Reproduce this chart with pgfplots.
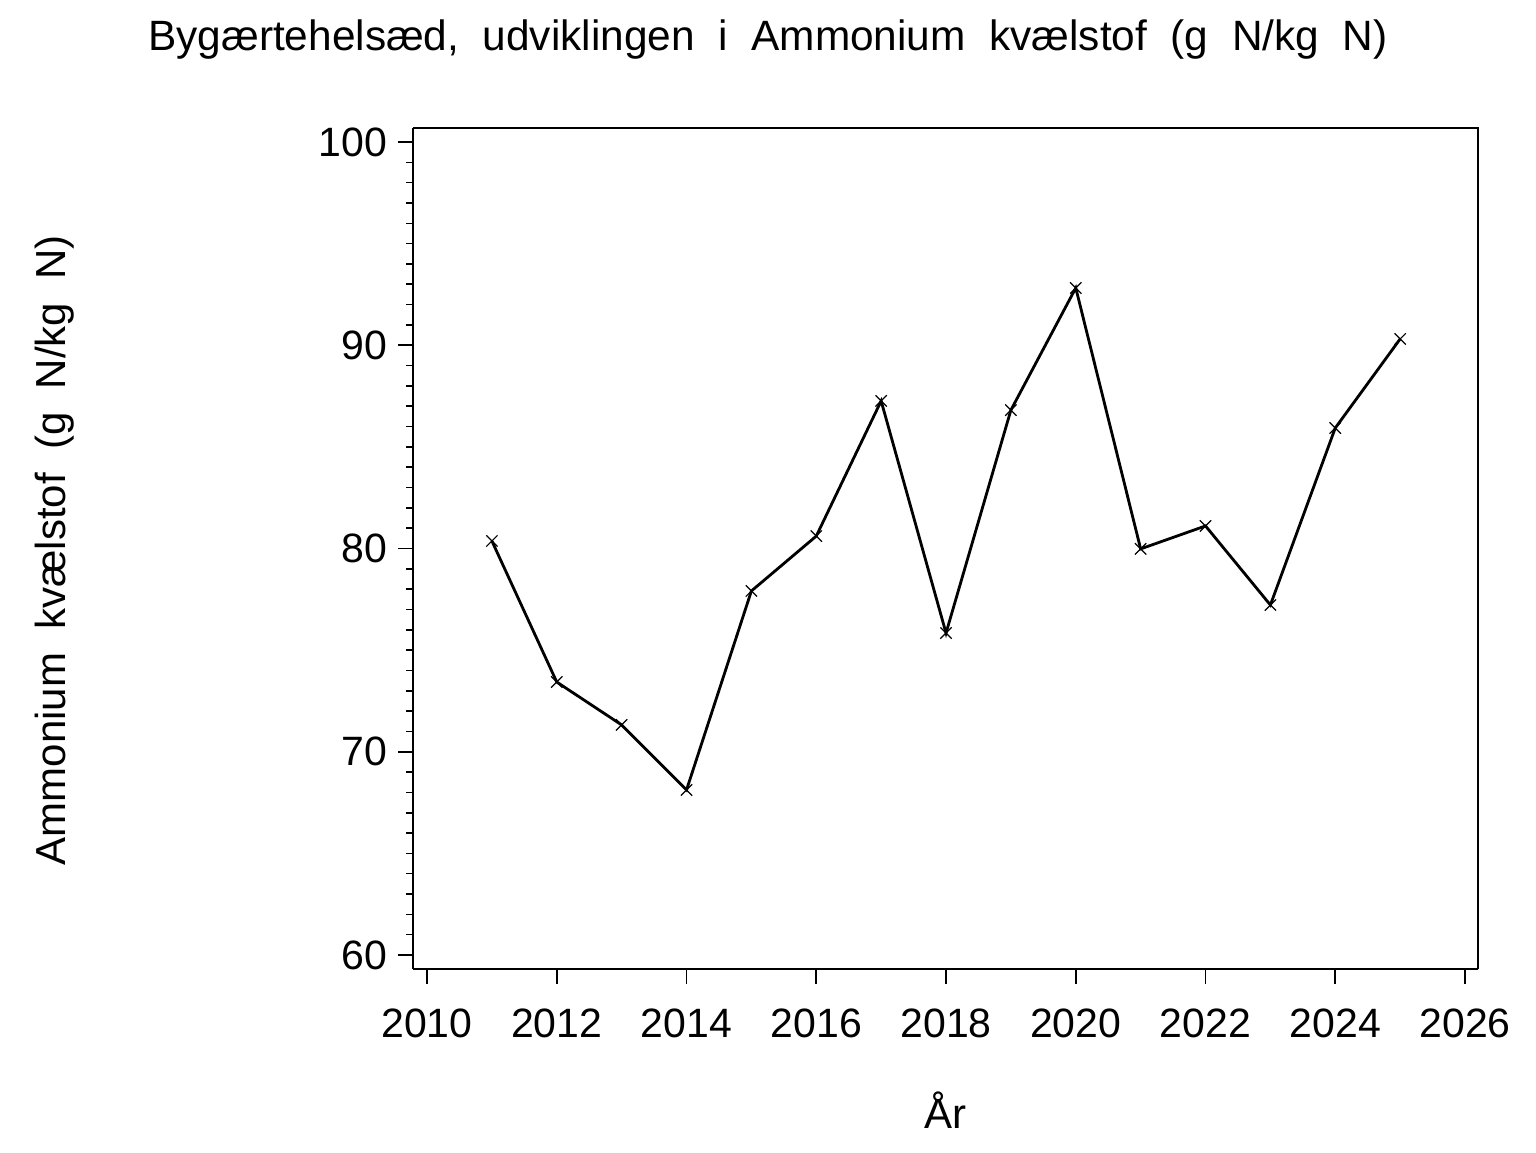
\documentclass[border=0pt]{standalone}
\usepackage{fontspec}
\setmainfont{Liberation Sans}
\usepackage{pgfplots}
\pgfplotsset{compat=1.18}
\begin{document}
\begin{tikzpicture}[x=1pt,y=1pt]
\path[use as bounding box] (-206.5,-91.5) rectangle (561.5,484.5);
\begin{axis}[
  at={(0,0)}, anchor=south west,
  scale only axis, width=532.5pt, height=420.5pt,
  xmin=2009.784, xmax=2026.2, ymin=59.31, ymax=100.69,
  xtick={2010,2012,...,2026}, ytick={60,70,80,90,100},
  minor x tick num=4, minor y tick num=9,
  axis x line*=bottom, axis y line*=left,
  tick align=outside,
  major tick length=7.5pt, minor tick length=3.5pt,
  every tick/.style={black, line width=0.8pt},
  axis line style={line width=0.8pt},
  /pgf/number format/assume math mode=true,
  /pgf/number format/1000 sep={},
  ticklabel style={font=\fontsize{20.5}{24}\selectfont},
  xticklabel style={yshift=-9pt},
  yticklabel style={xshift=-2pt},
  clip=false,
]
\draw[line width=0.8pt] (rel axis cs:0,1) -- (rel axis cs:1,1) -- (rel axis cs:1,0);
\addplot[black, line width=1.4pt, mark=x, mark size=4pt, mark options={line width=0.6pt}] coordinates {
(2011,80.37) (2012,73.43) (2013,71.32) (2014,68.12) (2015,77.91)
(2016,80.61) (2017,87.26) (2018,75.84) (2019,86.81) (2020,92.82)
(2021,79.98) (2022,81.11) (2023,77.22) (2024,85.93) (2025,90.31)
};
\end{axis}
\node[font=\fontsize{21.2}{25}\selectfont] at (177.5,464.5) {Bygærtehelsæd,\ \ udviklingen\ \ i\ \ Ammonium\ \ kvælstof\ \ (g\ \ N/kg\ \ N)};
\node[font=\fontsize{21}{25}\selectfont, rotate=90] at (-179,209.5) {Ammonium\ \ kvælstof\ \ (g\ \ N/kg\ \ N)};
\node[font=\fontsize{21}{25}\selectfont] at (266,-70.5) {År};
\end{tikzpicture}
\end{document}
